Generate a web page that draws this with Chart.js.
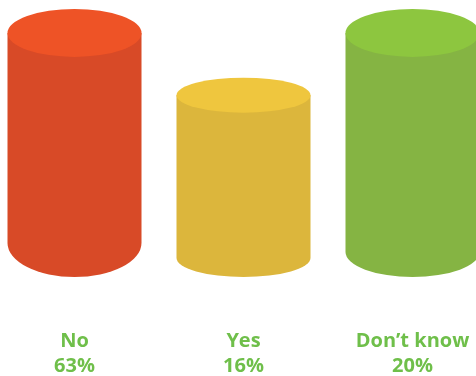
<!DOCTYPE html>
<html>
<head>
<meta charset="utf-8">
<script src="https://cdn.jsdelivr.net/npm/chart.js@4/dist/chart.umd.min.js"></script>
<style>
  html, body { margin: 0; padding: 0; background: #ffffff; }
  #wrap { width: 476px; height: 376px; position: relative; }
</style>
</head>
<body>
<div id="wrap"><canvas id="c"></canvas></div>
<script>
// ---- data ----
const categories = ["No", "Yes", "Don\u2019t know"];
const percentLabels = ["63%", "16%", "20%"];
// relative drawn heights of the cylinders (top-face centre above baseline)
const cylinderHeights = [100, 74.5, 100];

// ---- styles ----
const sideColors = ["#D84A27", "#DCB63C", "#85B443"];
const topColors  = ["#EE5326", "#EFC63E", "#8DC63F"];
const topRadiusY = [24, 17.5, 24];
const bottomRadiusY = [34, 19, 25];
const labelColor = "#6FBF4A";
// the category band extends past the canvas edges (right cylinder is cut off)
const xBandLeft = -10, xBandRight = 497;

const cylinderPlugin = {
  id: "cylinders",
  afterLayout(chart) {
    const x = chart.scales.x;
    x.left = xBandLeft;
    x.right = xBandRight;
    x.width = xBandRight - xBandLeft;
    x.configure();
  },
  beforeDatasetDraw(chart, args) {
    const meta = args.meta;
    const ctx = chart.ctx;
    ctx.save();
    meta.data.forEach((el, i) => {
      const p = el.getProps(["x", "y", "base", "width"], true);
      const cx = p.x, rx = p.width / 2;
      const topY = p.y, base = p.base;
      const tRy = topRadiusY[i], bRy = bottomRadiusY[i];
      const by = base - bRy;
      ctx.beginPath();
      ctx.moveTo(cx - rx, topY);
      ctx.lineTo(cx - rx, by);
      ctx.ellipse(cx, by, rx, bRy, 0, Math.PI, 0, true);
      ctx.lineTo(cx + rx, topY);
      ctx.closePath();
      ctx.fillStyle = sideColors[i];
      ctx.fill();
      ctx.beginPath();
      ctx.ellipse(cx, topY, rx, tRy, 0, 0, Math.PI * 2);
      ctx.fillStyle = topColors[i];
      ctx.fill();
    });
    ctx.restore();
    return false;
  }
};

new Chart(document.getElementById("c"), {
  type: "bar",
  data: {
    labels: categories.map((c, i) => [c, percentLabels[i]]),
    datasets: [{
      data: cylinderHeights,
      backgroundColor: sideColors,
      barThickness: 134
    }]
  },
  options: {
    responsive: true,
    maintainAspectRatio: false,
    animation: false,
    layout: { padding: 0 },
    plugins: { legend: { display: false }, tooltip: { enabled: false } },
    scales: {
      x: {
        grid: { display: false, drawTicks: false },
        border: { display: false },
        ticks: {
          color: labelColor,
          padding: 52,
          maxRotation: 0,
          autoSkip: false,
          font: { family: "'Open Sans', sans-serif", size: 20, weight: "bold", lineHeight: 1.25 }
        },
        afterFit(scale) {
          scale.height = 99;
          scale.paddingLeft = 0;
          scale.paddingRight = 0;
        }
      },
      y: {
        display: false,
        min: 0,
        max: 113.5
      }
    }
  },
  plugins: [cylinderPlugin]
});
</script>
</body>
</html>
